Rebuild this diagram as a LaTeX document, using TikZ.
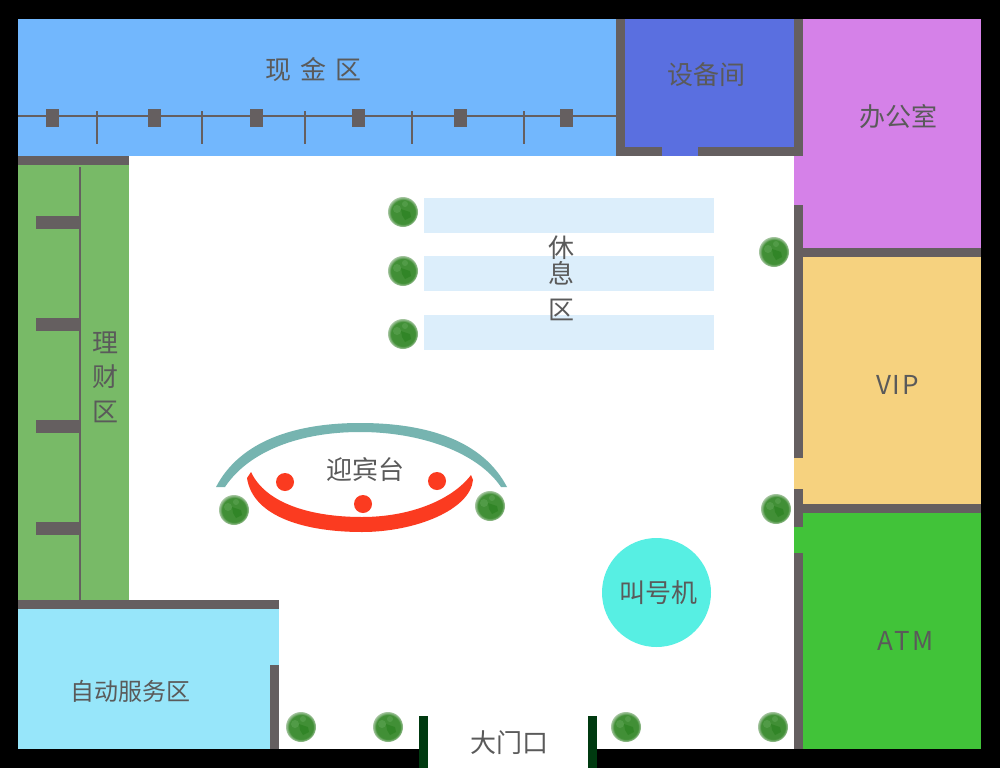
\documentclass[tikz,border=0pt]{standalone}
\usepackage{fontspec}
\setmainfont{Noto Sans CJK SC}
\newfontfamily\spacedfont[LetterSpace=6]{Noto Sans CJK SC}
\newfontfamily\widerfont[LetterSpace=9]{Noto Sans CJK SC}
\definecolor{wallc}{HTML}{655F60}
\definecolor{cashc}{HTML}{72B7FD}
\definecolor{devc}{HTML}{5A6FE0}
\definecolor{officec}{HTML}{D581E8}
\definecolor{vipc}{HTML}{F6D27F}
\definecolor{atmc}{HTML}{41C339}
\definecolor{autoc}{HTML}{97E6FA}
\definecolor{finc}{HTML}{78BA67}
\definecolor{restc}{HTML}{DCEEFB}
\definecolor{callc}{HTML}{57EFE3}
\definecolor{tealc}{HTML}{76B4B0}
\definecolor{redc}{HTML}{FB3B20}
\definecolor{postc}{HTML}{003A10}
\definecolor{textc}{HTML}{5A5A5A}
\definecolor{plantbase}{HTML}{418F36}
\definecolor{plantedge}{HTML}{A5C5A0}
\definecolor{plantdark}{HTML}{1F7A15}
\definecolor{plantlight}{HTML}{62A858}
\pgfdeclareradialshading{plantball}{\pgfpoint{0bp}{0bp}}{color(0bp)=(plantbase); color(20bp)=(plantbase); color(25bp)=(plantedge); color(50bp)=(plantedge)}
\tikzset{
 x=1pt,y=-1pt,
 label/.style={text=textc,font=\fontsize{26}{26}\selectfont,inner sep=0pt,align=center},
 plant/.style={circle,minimum size=30pt,inner sep=0pt,shading=plantball,
  path picture={\begin{scope}[shift={(path picture bounding box.center)}]
   \fill[plantdark,opacity=.45] (-2,-3) -- (7,0) -- (8,5) -- (2,8) -- (-1,3) -- cycle;
   \fill[plantlight,opacity=.5] (-6,-3) circle (4pt);
   \fill[plantlight,opacity=.5] (2,-8) circle (3pt);
  \end{scope}}},
 seat/.style={circle,fill=redc,minimum size=18pt,inner sep=0pt},
}
\newcommand{\bx}[5]{\fill[#1] (#2,#3) rectangle (#4,#5);}
\begin{document}
\begin{tikzpicture}
\useasboundingbox (0,0) rectangle (1000,768);
\fill[black] (0,0) rectangle (1000,768);
\bx{white}{18}{19}{981}{749}
\bx{white}{428}{749}{588}{768}
% zones
\bx{cashc}{18}{19}{616}{156}
\bx{devc}{625}{19}{794}{156}
\bx{officec}{803}{19}{981}{248}
\bx{officec}{794}{156}{803}{205}
\bx{vipc}{803}{257}{981}{504}
\bx{vipc}{794}{458}{803}{489}
\bx{atmc}{803}{513}{981}{749}
\bx{atmc}{794}{527}{803}{553}
\bx{finc}{18}{165}{129}{600}
\bx{autoc}{18}{609}{279}{749}
% walls
\bx{wallc}{616}{19}{625}{156}
\bx{wallc}{794}{19}{803}{156}
\bx{wallc}{616}{147}{662}{156}
\bx{wallc}{698}{147}{803}{156}
\bx{wallc}{794}{205}{803}{458}
\bx{wallc}{803}{248}{981}{257}
\bx{wallc}{794}{489}{803}{527}
\bx{wallc}{803}{504}{981}{513}
\bx{wallc}{794}{553}{803}{749}
\bx{wallc}{18}{156}{129}{165}
\bx{wallc}{18}{600}{279}{609}
\bx{wallc}{270}{665}{279}{749}
\bx{wallc}{79}{167}{81}{600}
\foreach \y in {216,318,420,522}{\bx{wallc}{36}{\y}{79}{\y+13}}
% rail
\bx{wallc}{18}{115}{616}{117}
\foreach \x in {46,148,250,352,454,560}{\bx{wallc}{\x}{109}{\x+13}{127}}
\foreach \x in {96,201,304,411,523}{\bx{wallc}{\x}{111}{\x+2}{144}}
% door
\bx{postc}{419}{716}{428}{768}
\bx{postc}{588}{716}{597}{768}
% rest
\foreach \y in {198,256,315}{\bx{restc}{424}{\y}{714}{\y+35}}
% desk
\fill[tealc] (216,487) .. controls (240,441) and (295,423) .. (360,423) .. controls (428,423) and (483,441) .. (507,487) -- (501,487) .. controls (478,453) and (422,432) .. (360,432) .. controls (300,432) and (249,451) .. (225,487) -- cycle;
\fill[redc] (251,472) .. controls (266,504) and (312,517) .. (362,517) .. controls (410,517) and (452,500) .. (471,475) -- (473,480) .. controls (470,510) and (415,532) .. (362,532) .. controls (308,532) and (253,518) .. (247,478) -- cycle;
\node[seat] (s1) at (285,482) {};
\node[seat] (s2) at (437,481) {};
\node[seat] (s3) at (363,504) {};
\node[circle,fill=callc,minimum size=109pt,inner sep=0pt] (call) at (656.5,592.5) {};
% plants
\node[plant] (p1) at (403,212) {};
\node[plant] (p2) at (403,271) {};
\node[plant] (p3) at (403,334) {};
\node[plant] (p4) at (774,252) {};
\node[plant] (p5) at (776,509) {};
\node[plant] (p6) at (234,510) {};
\node[plant] (p7) at (490,506) {};
\node[plant] (p8) at (301,727) {};
\node[plant] (p9) at (388,727) {};
\node[plant] (p10) at (626,727) {};
\node[plant] (p11) at (773,727) {};
% labels
\node[label] (cash) at (313.5,70) {现\hspace{9pt}金\hspace{9pt}区};
\node[label] (dev) at (706,74.5) {设备间};
\node[label] (office) at (898,116.5) {办公室};
\node[label] (vip) at (897.5,385) {\spacedfont VIP};
\node[label] (atm) at (905.5,641) {\widerfont ATM};
\node[label] (fin) at (105,377) {理\\[8pt]财\\[9pt]区};
\node[label] (rest) at (561,278) {休\\[0pt]息\\[10pt]区};
\node[label] (desk) at (365,470) {迎宾台};
\node[label] (callt) at (658,593) {叫号机};
\node[label,font=\fontsize{24}{24}\selectfont] (auto) at (130,691) {自动服务区};
\node[label] (gate) at (509,743) {大门口};
\end{tikzpicture}
\end{document}
